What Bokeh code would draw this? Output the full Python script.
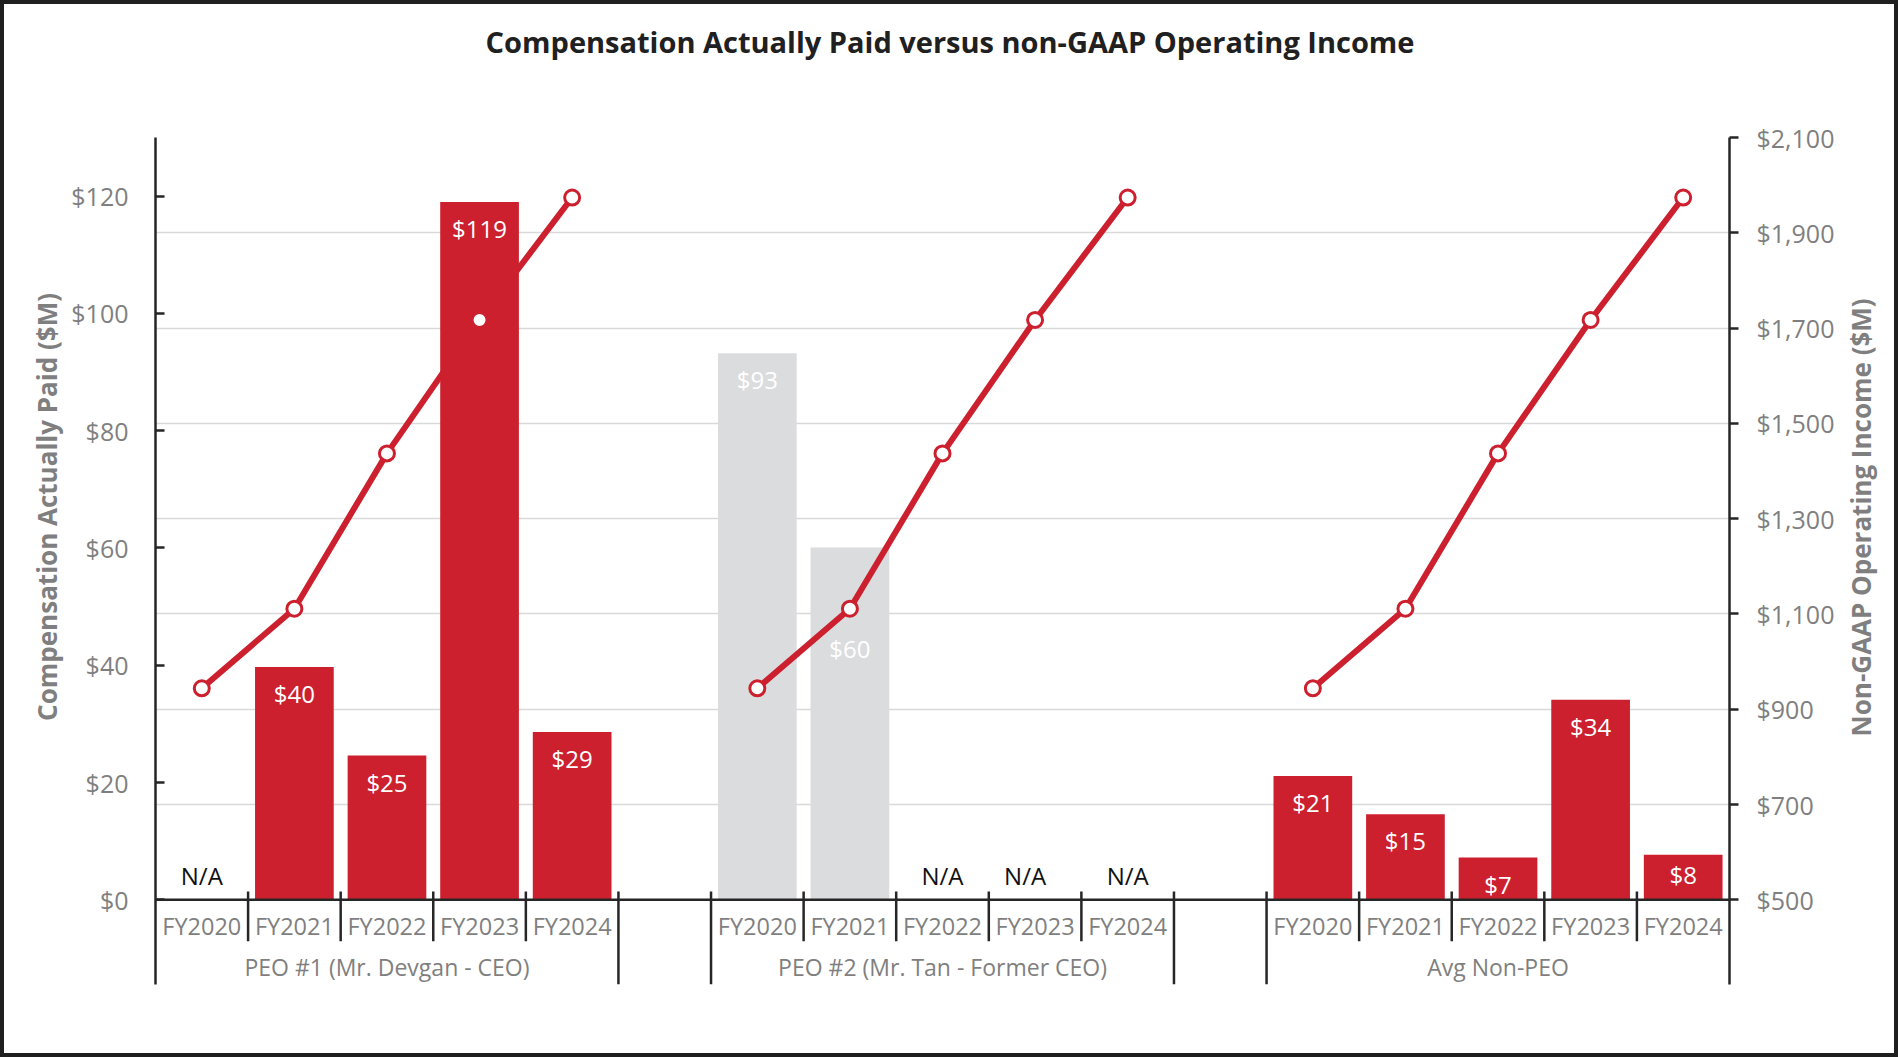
import math
from bokeh.plotting import figure
from bokeh.models import (Range1d, LinearAxis, FixedTicker, PrintfTickFormatter,
                          NumeralTickFormatter, Grid, Span, ColumnDataSource)
from bokeh.core.properties import value
from bokeh.embed import file_html
from bokeh.resources import INLINE

# ---------------- data ----------------
groups = ["PEO #1 (Mr. Devgan - CEO)", "PEO #2 (Mr. Tan - Former CEO)", "Avg Non-PEO"]
years = ["FY2020", "FY2021", "FY2022", "FY2023", "FY2024"]
peo1_cap = [None, 39.7, 24.6, 119.0, 28.6]      # Compensation Actually Paid ($M)
peo2_cap = [93.2, 60.1, None, None, None]
non_peo_cap = [21.1, 14.6, 7.2, 34.1, 7.7]
op_income = [944, 1111, 1437, 1717, 1974]       # Non-GAAP operating income ($M)
left_ticks = [0, 20, 40, 60, 80, 100, 120]
right_ticks = [500, 700, 900, 1100, 1300, 1500, 1700, 1900, 2100]
title_text = "Compensation Actually Paid versus non-GAAP Operating Income"
left_title = "Compensation Actually Paid ($M)"
right_title = "Non-GAAP Operating Income ($M)"
na_text = "N/A"

cap_series = [peo1_cap, peo2_cap, non_peo_cap]

# ---------------- styles / layout ----------------
FONT = "Open Sans"
RED = "#CD202F"
GRAY_BAR = "#DBDCDE"
TXT_GRAY = "#7F7F7F"
DARK = "#262626"
NBSP = "\u00a0"

W, H = 1890, 1049                         # canvas size (a 4px frame is drawn around it)
LW, LH = W + 8, H + 8                     # size used by the layout engine
FL, FR, FT, FB = 151, 1725, 133, 980      # frame edges in canvas px
BASE = 895.3                              # baseline (value 0) in canvas px
Y_TOP = 130
R_LO, R_HI = 500, 2100
NSLOT = len(groups) * (len(years) + 1) - 1
PPX = (FR - FL) / NSLOT
PPU = (BASE - FT) / Y_TOP
PPU_R = (BASE - FT) / (R_HI - R_LO)
Y_LO = -(FB - BASE) / PPU
R_START = R_LO - (FB - BASE) / PPU_R


def dy(px):
    return Y_TOP - (px - FT) / PPU


p = figure(width=W, height=H, output_backend="svg", toolbar_location=None,
           x_axis_location=None, y_axis_location=None,
           x_range=Range1d(0, NSLOT), y_range=Range1d(Y_LO, Y_TOP),
           min_border_left=FL, min_border_right=LW - FR,
           min_border_top=FT, min_border_bottom=LH - FB)
p.extra_y_ranges = {"right": Range1d(R_START, R_HI)}
p.center = [r for r in p.center if not isinstance(r, Grid)]
p.outline_line_color = None
p.background_fill_color = "white"
p.border_fill_color = "white"
p.styles = {"box-sizing": "content-box", "border": "4px solid #1f1f1f"}

# grid lines (from secondary axis)
p.add_layout(Grid(dimension=1, ticker=FixedTicker(ticks=right_ticks[1:]), y_range_name="right",
                  grid_line_color="#D9D9D9", grid_line_width=1.5))

# axes
lax = LinearAxis(ticker=FixedTicker(ticks=left_ticks), formatter=PrintfTickFormatter(format="$%d"))
rax = LinearAxis(y_range_name="right", ticker=FixedTicker(ticks=right_ticks),
                 formatter=NumeralTickFormatter(format="$0,0"))
for ax in (lax, rax):
    ax.axis_line_color = DARK
    ax.axis_line_width = 2.5
    ax.major_tick_line_color = DARK
    ax.major_tick_line_width = 2.5
    ax.minor_tick_line_color = None
    ax.major_label_text_font = FONT
    ax.major_label_text_font_size = "25px"
    ax.major_label_text_color = TXT_GRAY
lax.major_tick_in, lax.major_tick_out, lax.major_label_standoff = 9, 0, 27
rax.major_tick_in, rax.major_tick_out, rax.major_label_standoff = 0, 9, 18
lax.axis_label = NBSP * 16 + left_title
lax.axis_label_standoff = 3
lax.axis_label_text_font = FONT
lax.axis_label_text_font_size = "26px"
lax.axis_label_text_font_style = "bold"
lax.axis_label_text_color = TXT_GRAY
p.add_layout(lax, "left")
p.add_layout(rax, "right")

# secondary-axis title: a single rotated label of a bare outer axis, reading upwards
r_anchor = round(R_LO + (BASE - 732) / PPU_R)
rlab = LinearAxis(y_range_name="right", ticker=FixedTicker(ticks=[r_anchor]),
                  major_label_overrides={r_anchor: right_title},
                  major_label_orientation=math.pi / 2,
                  axis_line_color=None, major_tick_line_color=None, minor_tick_line_color=None,
                  major_tick_in=0, major_tick_out=0, major_label_standoff=24,
                  major_label_text_font=FONT, major_label_text_font_size="26px",
                  major_label_text_font_style="bold", major_label_text_color=TXT_GRAY)
p.add_layout(rlab, "right")

# chart title as the label of a bare axis above the frame
tax = LinearAxis(ticker=FixedTicker(ticks=[]), axis_line_color=None, major_tick_line_color=None,
                 minor_tick_line_color=None, major_label_text_font_size="0px",
                 axis_label=NBSP * 2 + title_text, axis_label_text_font=FONT,
                 axis_label_text_font_size="29px", axis_label_text_font_style="bold",
                 axis_label_text_color="#202020", axis_label_standoff=77)
p.add_layout(tax, "above")

# bars
bx, btop, bcol, blab, blab_y = [], [], [], [], []
na_x, na_y, na_dx = [], [], []
label_drop = {(1, 1): 101.5, (2, 4): 20}
na_shift = {(1, 3): -10}
for g, series in enumerate(cap_series):
    for j, v in enumerate(series):
        x = g * (len(years) + 1) + j + 0.5
        if v is None:
            na_x.append(x)
            na_y.append(dy(871))
            na_dx.append(na_shift.get((g, j), 0))
            continue
        bx.append(x)
        btop.append(v)
        bcol.append(GRAY_BAR if g == 1 else RED)
        blab.append("$%d" % int(v + 0.5))
        blab_y.append(v - label_drop.get((g, j), 26.5) / PPU)

bars = ColumnDataSource(dict(x=bx, top=btop, color=bcol, lab=blab, lab_y=blab_y))
p.vbar(x="x", top="top", bottom=0, width=0.85, fill_color="color", line_color=None, source=bars)

# baseline
p.add_layout(Span(location=0, dimension="width", line_color=DARK, line_width=2.5))

# lines
for g in range(len(groups)):
    xs = [g * (len(years) + 1) + j + 0.5 for j in range(len(years))]
    p.line(xs, op_income, y_range_name="right", line_color=RED, line_width=6, line_join="round")
    p.scatter(xs, op_income, y_range_name="right", marker="circle", size=15,
              fill_color="white", line_color=RED, line_width=3)

# bar value labels
p.text(x="x", y="lab_y", text="lab", source=bars, text_align="center", text_baseline="middle",
       text_color="white", text_font=value(FONT), text_font_size="24px")
na_src = ColumnDataSource(dict(x=na_x, y=na_y, dx=na_dx, t=[na_text] * len(na_x)))
p.text(x="x", y="y", text="t", x_offset="dx", source=na_src, text_align="center",
       text_baseline="middle", text_color="#111111", text_font=value(FONT), text_font_size="24px")

# category dividers
outer = {len(years), len(years) + 1, 2 * len(years) + 1, 2 * len(years) + 2}
sx, sy0, sy1 = [], [], []
for b in range(1, NSLOT):
    sx.append(b)
    sy0.append(dy(887))
    sy1.append(Y_LO if b in outer else dy(936.7))
p.segment(x0=sx, y0=sy0, x1=sx, y1=sy1, line_color=DARK, line_width=2.5)

# category labels
fx, fy, ft = [], [], []
for g in range(len(groups)):
    for j, yr in enumerate(years):
        fx.append(g * (len(years) + 1) + j + 0.5)
        fy.append(dy(921))
        ft.append(yr)
p.text(x=fx, y=fy, text=ft, text_align="center", text_baseline="middle",
       text_color=TXT_GRAY, text_font=value(FONT), text_font_size="23.5px")
gx = [g * (len(years) + 1) + len(years) / 2 for g in range(len(groups))]
p.text(x=gx, y=[dy(962.7)] * len(groups), text=groups, text_align="center", text_baseline="middle",
       text_color=TXT_GRAY, text_font=value(FONT), text_font_size="23px")

open("out.html", "w").write(file_html(p, INLINE))
